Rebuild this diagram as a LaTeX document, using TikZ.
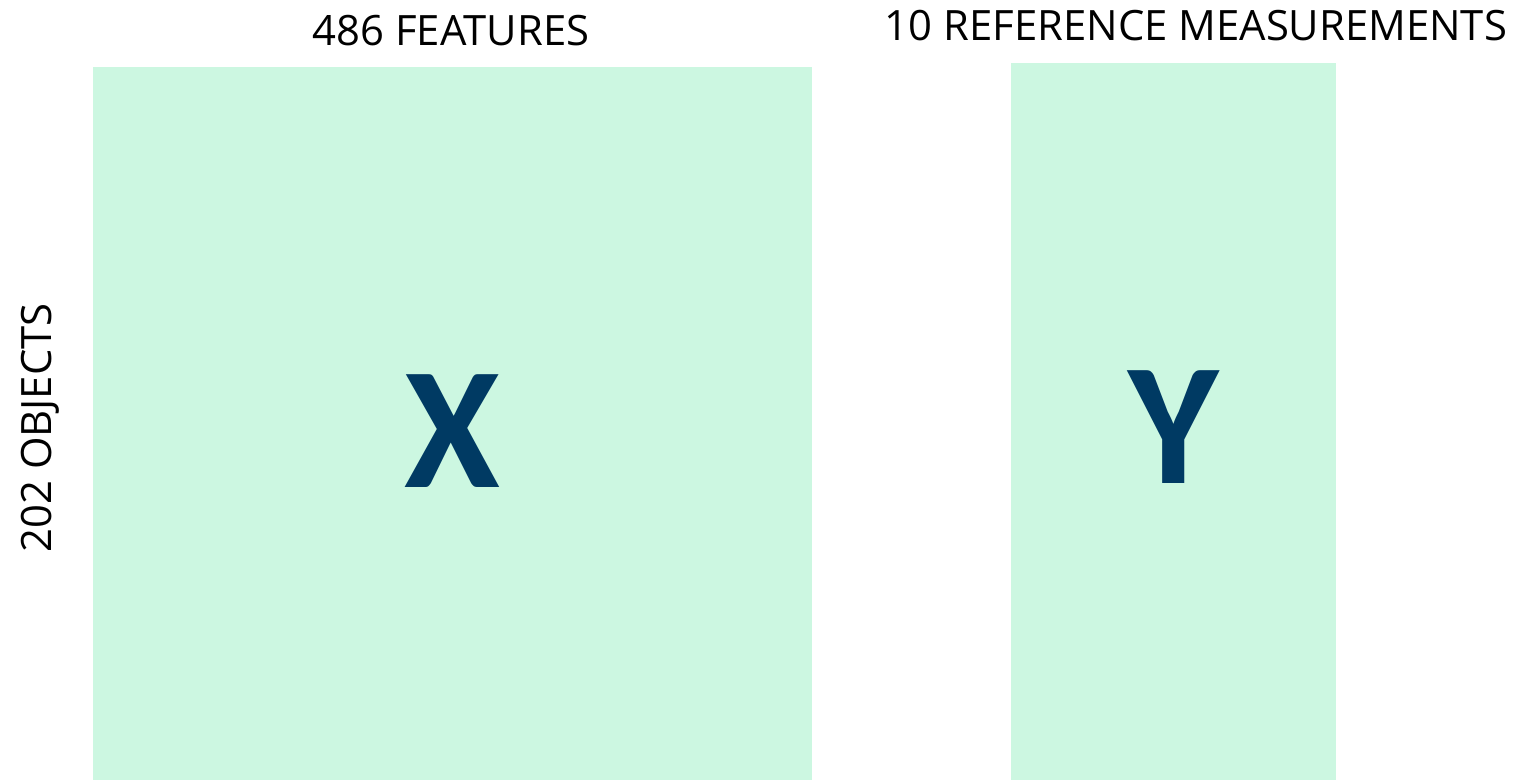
\documentclass[tikz,border=0pt]{standalone}
\usepackage{fontspec}
\setmainfont{Carlito}
\newfontfamily\lblfont{Open Sans}
\definecolor{boxgreen}{HTML}{CCF7E1}
\definecolor{letterblue}{HTML}{003A63}
\begin{document}
\begin{tikzpicture}[x=1pt,y=-1pt,
  matbox/.style={fill=boxgreen,draw=none},
  lbl/.style={font=\lblfont\fontsize{41.8}{42}\selectfont,inner sep=0pt},
  big/.style={font=\fontsize{174}{174}\selectfont\bfseries,text=letterblue,inner sep=0pt}]
\useasboundingbox (0,0) rectangle (1519,781);
\fill[boxgreen] (93,67) rectangle (812,780);
\fill[boxgreen] (1011,63) rectangle (1336,780);
\node[big] (X) at (452,431) {X};
\node[big] (Y) at (1173.5,427) {Y};
\node[lbl] (feat) at (451,31) {486 FEATURES};
\node[lbl] (ref) at (1196,26) {10 REFERENCE MEASUREMENTS};
\node[lbl,rotate=90] (obj) at (40,428) {202 OBJECTS};
\end{tikzpicture}
\end{document}
